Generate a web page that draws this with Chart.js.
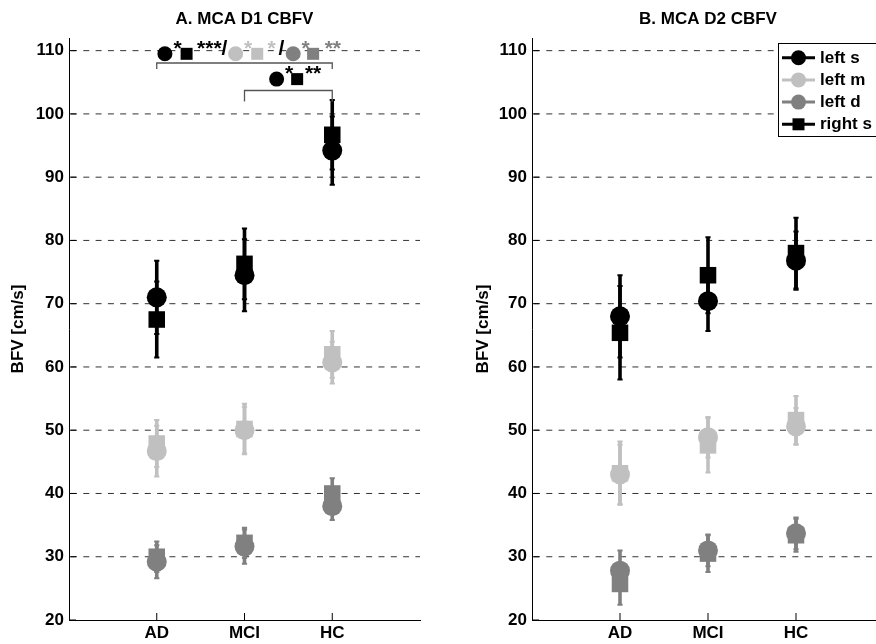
<!DOCTYPE html>
<html>
<head>
<meta charset="utf-8">
<title>MCA CBFV</title>
<script src="https://cdn.jsdelivr.net/npm/chart.js@4/dist/chart.umd.min.js"></script>
<style>
  html, body { margin: 0; padding: 0; background: #fff; overflow: hidden; }
  #wrap { position: relative; width: 876px; height: 644px; overflow: hidden; }
  #boxA { position: absolute; left: 0; top: 0; }
  #boxB { position: absolute; left: 440px; top: 0; }
</style>
</head>
<body>
<div id="wrap">
  <div id="boxA"><canvas id="chartA" width="440" height="644"></canvas></div>
  <div id="boxB"><canvas id="chartB" width="464" height="644"></canvas></div>
</div>
<script>
const groups = ["AD", "MCI", "HC"];
const yTicks = [20, 30, 40, 50, 60, 70, 80, 90, 100, 110];
const legendNames = ["left s", "left m", "left d", "right s"];

// MCA D1: group means and error half-widths (cm/s)
const d1LeftS = [71.0, 74.5, 94.2];
const d1LeftSErr = [5.8, 5.7, 5.4];
const d1RightS = [67.5, 76.3, 96.7];
const d1RightSErr = [6.0, 5.6, 5.5];
const d1LeftM = [46.7, 50.0, 60.7];
const d1LeftMErr = [4.0, 3.7, 3.3];
const d1RightM = [47.9, 50.2, 62.0];
const d1RightMErr = [3.7, 4.0, 3.7];
const d1LeftD = [29.2, 31.6, 38.0];
const d1LeftDErr = [2.6, 2.7, 2.2];
const d1RightD = [30.0, 32.2, 40.0];
const d1RightDErr = [2.4, 2.4, 2.4];

// MCA D2
const d2LeftS = [68.0, 70.4, 76.8];
const d2LeftSErr = [6.5, 4.7, 4.6];
const d2RightS = [65.4, 74.5, 78.0];
const d2RightSErr = [7.4, 6.0, 5.6];
const d2LeftM = [43.0, 48.9, 50.6];
const d2LeftMErr = [4.7, 3.2, 2.9];
const d2RightM = [43.2, 47.6, 51.6];
const d2RightMErr = [5.0, 4.3, 3.8];
const d2LeftD = [27.8, 31.0, 33.7];
const d2LeftDErr = [3.2, 2.5, 2.5];
const d2RightD = [25.7, 30.5, 33.4];
const d2RightDErr = [3.3, 2.9, 2.6];

const BLACK = "#000000";
const LIGHT = "#c0c0c0";
const MID = "#808080";
const FONT = '"Liberation Sans", Arial, Helvetica, sans-serif';

// significance brackets in panel A: [from, to, bar level, tip level]
const sigBrackets = [[1, 3, 108.05, 107.1], [2, 3, 103.7, 101.95]];
// marker glyphs next to the stars: [shape, color, x, y]
const sigMarks = [
  ["circle", BLACK, 1.093, 109.5], ["square", BLACK, 1.34, 109.5],
  ["circle", LIGHT, 1.899, 109.5], ["square", LIGHT, 2.145, 109.5],
  ["circle", MID, 2.555, 109.5], ["square", MID, 2.782, 109.5],
  ["circle", BLACK, 2.366, 105.5], ["square", BLACK, 2.6, 105.5]
];
// star text: [text, color, x, baseline]
const sigText = [
  ["*", BLACK, 1.238, 109.36], ["***/", BLACK, 1.632, 109.36],
  ["*", LIGHT, 2.042, 109.36], ["*", LIGHT, 2.309, 109.36],
  ["/", BLACK, 2.422, 109.36], ["*", MID, 2.696, 109.36], ["**", MID, 3.007, 109.36],
  ["*", BLACK, 2.509, 105.31], ["**", BLACK, 2.782, 105.31]
];

const drawShape = (ctx, shape, x, y, size, color) => {
  ctx.fillStyle = color;
  ctx.beginPath();
  if (shape === "circle") ctx.arc(x, y, size / 2, 0, Math.PI * 2);
  else ctx.rect(x - size / 2, y - size / 2, size, size);
  ctx.fill();
};

const series = (vals, errs, color, shape) => ({
  data: vals.map((v, i) => ({ x: i + 1, y: v })),
  errors: errs,
  backgroundColor: color,
  borderColor: color,
  pointBackgroundColor: color,
  pointStyle: shape === "square" ? "rect" : "circle",
  pointRadius: shape === "square" ? 11.7 : 10,
  pointBorderWidth: 0,
  showLine: false
});

// dashed grid plus the short inner tick marks
const axisGrid = {
  id: "axisGrid",
  beforeDatasetsDraw(chart) {
    const { ctx, chartArea: a, scales: { x, y } } = chart;
    ctx.save();
    ctx.strokeStyle = "#333";
    ctx.lineWidth = 1;
    ctx.setLineDash([6, 6.3]);
    yTicks.slice(1).forEach((t) => {
      const py = y.getPixelForValue(t);
      ctx.beginPath();
      ctx.moveTo(a.left + 2, py);
      ctx.lineTo(a.right, py);
      ctx.stroke();
    });
    ctx.setLineDash([]);
    ctx.strokeStyle = BLACK;
    yTicks.forEach((t) => {
      const py = y.getPixelForValue(t);
      ctx.beginPath();
      ctx.moveTo(a.left, py);
      ctx.lineTo(a.left + 7, py);
      ctx.stroke();
    });
    groups.forEach((g, i) => {
      const px = x.getPixelForValue(i + 1);
      ctx.beginPath();
      ctx.moveTo(px, a.bottom);
      ctx.lineTo(px, a.bottom - 7);
      ctx.stroke();
    });
    ctx.restore();
  }
};

const errorBars = {
  id: "errorBars",
  beforeDatasetsDraw(chart) {
    const { ctx, scales: { y } } = chart;
    chart.data.datasets.forEach((ds, i) => {
      const meta = chart.getDatasetMeta(i);
      ctx.save();
      ctx.strokeStyle = ds.borderColor;
      meta.data.forEach((pt, j) => {
        const v = ds.data[j].y;
        const e = ds.errors[j];
        const top = y.getPixelForValue(v + e);
        const bot = y.getPixelForValue(v - e);
        ctx.lineWidth = 3.6;
        ctx.beginPath();
        ctx.moveTo(pt.x, top);
        ctx.lineTo(pt.x, bot);
        ctx.stroke();
        ctx.lineWidth = 2;
        ctx.beginPath();
        ctx.moveTo(pt.x - 2.6, top);
        ctx.lineTo(pt.x + 2.6, top);
        ctx.moveTo(pt.x - 2.6, bot);
        ctx.lineTo(pt.x + 2.6, bot);
        ctx.stroke();
      });
      ctx.restore();
    });
  }
};

const significance = {
  id: "significance",
  afterDatasetsDraw(chart) {
    const { ctx, scales: { x, y } } = chart;
    ctx.save();
    ctx.strokeStyle = "#555";
    ctx.lineWidth = 1.3;
    sigBrackets.forEach(([from, to, bar, tip]) => {
      const x1 = x.getPixelForValue(from), x2 = x.getPixelForValue(to);
      const yb = y.getPixelForValue(bar), yt = y.getPixelForValue(tip);
      ctx.beginPath();
      ctx.moveTo(x1, yt);
      ctx.lineTo(x1, yb);
      ctx.lineTo(x2, yb);
      ctx.lineTo(x2, yt);
      ctx.stroke();
    });
    sigMarks.forEach(([shape, color, mx, my]) => {
      drawShape(ctx, shape, x.getPixelForValue(mx), y.getPixelForValue(my),
        shape === "circle" ? 15 : 12, color);
    });
    ctx.font = "bold 21px " + FONT;
    ctx.textAlign = "center";
    ctx.textBaseline = "alphabetic";
    sigText.forEach(([txt, color, tx, ty]) => {
      ctx.fillStyle = color;
      ctx.fillText(txt, x.getPixelForValue(tx), y.getPixelForValue(ty));
    });
    ctx.restore();
  }
};

const legendBox = {
  id: "legendBox",
  afterDraw(chart) {
    const { ctx } = chart;
    const styles = [
      ["circle", BLACK], ["circle", LIGHT], ["circle", MID], ["square", BLACK]
    ];
    ctx.save();
    ctx.fillStyle = "#fff";
    ctx.fillRect(338.5, 43.5, 140, 93);
    ctx.strokeStyle = BLACK;
    ctx.lineWidth = 1;
    ctx.strokeRect(338.5, 43.5, 140, 93);
    ctx.font = "bold 17px " + FONT;
    ctx.textAlign = "left";
    ctx.textBaseline = "middle";
    legendNames.forEach((name, i) => {
      const ry = 57.7 + i * 22.2;
      const [shape, color] = styles[i];
      ctx.strokeStyle = color;
      ctx.lineWidth = 3;
      ctx.beginPath();
      ctx.moveTo(342, ry);
      ctx.lineTo(375, ry);
      ctx.stroke();
      drawShape(ctx, shape, 358.5, ry, shape === "circle" ? 15 : 12, color);
      ctx.fillStyle = BLACK;
      ctx.fillText(name, 380, ry + 0.5);
    });
    ctx.restore();
  }
};

const makeChart = (id, title, sets, axisWidth, labelPad, extra) => {
  const tickFont = { family: FONT, size: 17, weight: "bold" };
  return new Chart(document.getElementById(id), {
    type: "scatter",
    data: {
      datasets: [
        series(sets.rd, sets.rdErr, MID, "square"),
        series(sets.ld, sets.ldErr, MID, "circle"),
        series(sets.rm, sets.rmErr, LIGHT, "square"),
        series(sets.lm, sets.lmErr, LIGHT, "circle"),
        series(sets.rs, sets.rsErr, BLACK, "square"),
        series(sets.ls, sets.lsErr, BLACK, "circle")
      ]
    },
    options: {
      responsive: false,
      animation: false,
      events: [],
      layout: { padding: { left: 0, right: 20, top: 0, bottom: 0 } },
      plugins: {
        legend: { display: false },
        tooltip: { enabled: false },
        title: {
          display: true,
          text: title,
          fullSize: false,
          color: BLACK,
          font: tickFont,
          padding: { top: 9, bottom: 8.6 }
        }
      },
      scales: {
        x: {
          type: "linear",
          min: 0,
          max: 4,
          afterBuildTicks: (s) => { s.ticks = groups.map((g, i) => ({ value: i + 1 })); },
          afterFit: (s) => { s.height = 24; },
          grid: { display: false, drawTicks: false },
          border: { display: true, color: BLACK, width: 1 },
          ticks: {
            color: BLACK,
            padding: 3,
            font: tickFont,
            maxRotation: 0,
            autoSkip: false,
            callback: (v) => groups[v - 1]
          }
        },
        y: {
          min: 20,
          max: 112,
          afterBuildTicks: (s) => { s.ticks = yTicks.map((v) => ({ value: v })); },
          afterFit: (s) => { s.width = axisWidth; },
          grid: { display: false, drawTicks: false },
          border: { display: true, color: BLACK, width: 1 },
          ticks: { color: BLACK, padding: 5, font: tickFont },
          title: {
            display: true,
            text: "BFV [cm/s]",
            color: BLACK,
            font: tickFont,
            padding: { top: labelPad, bottom: 0 }
          }
        }
      }
    },
    plugins: [axisGrid, errorBars].concat(extra)
  });
};

makeChart("chartA", "A. MCA D1 CBFV", {
  ls: d1LeftS, lsErr: d1LeftSErr, rs: d1RightS, rsErr: d1RightSErr,
  lm: d1LeftM, lmErr: d1LeftMErr, rm: d1RightM, rmErr: d1RightMErr,
  ld: d1LeftD, ldErr: d1LeftDErr, rd: d1RightD, rdErr: d1RightDErr
}, 69, 8, [significance]);

makeChart("chartB", "B. MCA D2 CBFV", {
  ls: d2LeftS, lsErr: d2LeftSErr, rs: d2RightS, rsErr: d2RightSErr,
  lm: d2LeftM, lmErr: d2LeftMErr, rm: d2RightM, rmErr: d2RightMErr,
  ld: d2LeftD, ldErr: d2LeftDErr, rd: d2RightD, rdErr: d2RightDErr
}, 92, 33, [legendBox]);
</script>
</body>
</html>
